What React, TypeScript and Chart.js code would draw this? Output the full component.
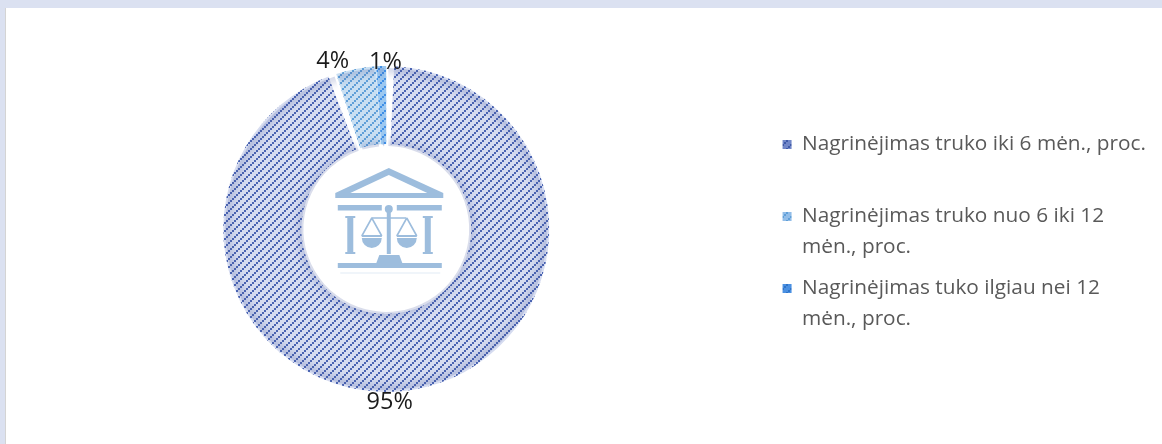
import React, { useEffect, useRef } from "react";
import { Chart, registerables } from "chart.js";

Chart.register(...registerables);

const categories = [
  ["Nagrinėjimas truko iki 6 mėn., proc.", ""],
  ["Nagrinėjimas truko nuo 6 iki 12", "mėn., proc."],
  ["Nagrinėjimas tuko ilgiau nei 12", "mėn., proc."],
];
const shares = [95, 4, 1];
const valueLabels = ["95%", "4%", "1%"];
const stripeColors = ["#4a64b2", "#5f9fd8", "#3f8fe6"];
const groundColors = ["#d6dcf0", "#c9dff2", "#9cc8f0"];
const legendStripes = ["#3f5aa8", "#5f9fd8", "#2f74c8"];
const legendGrounds = ["#7287c8", "#92bde8", "#4a90e2"];
const labelShift = [[-24, 0], [-21.5, 0], [4.5, 0]];
const labelRadius = [14, 10, 6];

function hatch(stripe: string, ground: string) {
  const c = document.createElement("canvas");
  c.width = 8;
  c.height = 8;
  const g = c.getContext("2d")!;
  g.fillStyle = ground;
  g.fillRect(0, 0, 8, 8);
  g.fillStyle = stripe;
  [[6, 0], [4, 2], [2, 4], [0, 6]].forEach(([x, y]) => g.fillRect(x, y, 2, 2));
  return g.createPattern(c, "repeat")!;
}

const softEdges = {
  id: "softEdges",
  afterDatasetsDraw(chart: any) {
    const ctx = chart.ctx;
    chart.getDatasetMeta(0).data.forEach((arc: any) => {
      const { x, y, startAngle, endAngle, innerRadius, outerRadius } = arc.getProps(
        ["x", "y", "startAngle", "endAngle", "innerRadius", "outerRadius"],
        true
      );
      const off = arc.options.spacing / 2 / outerRadius;
      ctx.save();
      ctx.beginPath();
      ctx.arc(x, y, outerRadius, startAngle + off, endAngle - off);
      ctx.arc(x, y, innerRadius, endAngle - off * 2, startAngle + off * 2, true);
      ctx.closePath();
      ctx.clip();
      ctx.filter = "blur(5px)";
      ctx.strokeStyle = "rgba(70,90,160,0.38)";
      ctx.lineWidth = 7;
      ctx.beginPath();
      ctx.arc(x, y, outerRadius, 0, Math.PI * 2);
      ctx.stroke();
      ctx.beginPath();
      ctx.arc(x, y, innerRadius, 0, Math.PI * 2);
      ctx.stroke();
      ctx.restore();
    });
  },
};

const valueText = {
  id: "valueText",
  afterDatasetsDraw(chart: any) {
    const ctx = chart.ctx;
    ctx.save();
    ctx.font = '23.5px "Open Sans"';
    ctx.fillStyle = "#1a1a1a";
    ctx.textAlign = "center";
    ctx.textBaseline = "middle";
    chart.getDatasetMeta(0).data.forEach((arc: any, i: number) => {
      const { x, y, startAngle, endAngle, outerRadius } = arc.getProps(
        ["x", "y", "startAngle", "endAngle", "outerRadius"],
        true
      );
      const mid = (startAngle + endAngle) / 2;
      const r = outerRadius + labelRadius[i];
      ctx.fillText(
        valueLabels[i],
        x + Math.cos(mid) * r + labelShift[i][0],
        y + Math.sin(mid) * r + labelShift[i][1]
      );
    });
    ctx.restore();
  },
};

const courtIcon = {
  id: "courtIcon",
  afterDatasetsDraw(chart: any) {
    const arc = chart.getDatasetMeta(0).data[0];
    const ctx = chart.ctx;
    const poly = (pts: number[][]) => {
      ctx.beginPath();
      pts.forEach(([a, b], i) => (i ? ctx.lineTo(a, b) : ctx.moveTo(a, b)));
      ctx.closePath();
      ctx.fill();
    };
    ctx.save();
    ctx.translate(arc.x, arc.y);
    ctx.filter = "blur(0.6px)";
    ctx.fillStyle = "#9dbddd";
    ctx.strokeStyle = "#9dbddd";
    // roof
    poly([[2.5, -61], [57, -36], [57, -31], [-51, -31], [-51, -36]]);
    ctx.fillStyle = "#fff";
    poly([[2.5, -54], [41, -36], [-36, -36]]);
    ctx.fillStyle = "#9dbddd";
    // entablature
    ctx.fillRect(-48.5, -24, 44, 5.5);
    ctx.fillRect(10.5, -24, 45, 5.5);
    // columns
    ctx.fillRect(-39, -12, 6, 37);
    ctx.fillRect(-41, -13, 10, 2);
    ctx.fillRect(-41, 23, 10, 2);
    ctx.fillRect(38.5, -12, 6, 37);
    ctx.fillRect(36.5, -13, 10, 2);
    ctx.fillRect(36.5, 23, 10, 2);
    // scales
    ctx.beginPath();
    ctx.arc(2.5, -20, 4, 0, Math.PI * 2);
    ctx.fill();
    ctx.fillRect(0.5, -20, 4, 45);
    ctx.lineWidth = 1.6;
    ctx.beginPath();
    ctx.moveTo(-15, -11);
    ctx.lineTo(20, -11);
    ctx.stroke();
    [-14.5, 20.5].forEach((px) => {
      ctx.beginPath();
      ctx.moveTo(px, -11);
      ctx.lineTo(px - 10, 7);
      ctx.moveTo(px, -11);
      ctx.lineTo(px + 10, 7);
      ctx.stroke();
      ctx.fillRect(px - 10, 6, 20, 2);
      ctx.beginPath();
      ctx.arc(px, 9, 10, 0, Math.PI);
      ctx.fill();
    });
    // base
    poly([[-7, 26], [13, 26], [16, 34], [-10, 34]]);
    ctx.fillRect(-48.5, 34, 104, 5);
    ctx.globalAlpha = 0.15;
    ctx.fillRect(-46, 43, 100, 2);
    ctx.restore();
  },
};

export default function App() {
  const ref = useRef<HTMLCanvasElement>(null);
  useEffect(() => {
    document.body.style.margin = "0";
    const fills = stripeColors.map((s, i) => hatch(s, groundColors[i]));
    const legendFills = legendStripes.map((s, i) => hatch(s, legendGrounds[i]));
    const chart = new Chart(ref.current!, {
      type: "doughnut",
      data: {
        labels: categories as any,
        datasets: [
          {
            data: shares,
            backgroundColor: fills as any,
            borderWidth: 0,
            spacing: 4,
          },
        ],
      },
      options: {
        responsive: false,
        animation: false,
        cutout: "51.5%",
        layout: { padding: { top: 66, bottom: 52, left: 0, right: 6 } },
        plugins: {
          tooltip: { enabled: false },
          legend: {
            position: "right",
            title: { display: true, text: " ", padding: 7.5, font: { size: 1 } },
            labels: {
              boxWidth: 9,
              boxHeight: 9,
              padding: 10,
              color: "#595959",
              font: { family: '"Open Sans"', size: 20.8, lineHeight: 31 / 20.8 },
              generateLabels: (c: any) =>
                c.data.labels.map((text: any, index: number) => ({
                  text,
                  index,
                  fillStyle: legendFills[index],
                  strokeStyle: "transparent",
                  lineWidth: 0,
                  fontColor: "#595959",
                  hidden: false,
                })),
            },
          },
        },
      },
      plugins: [softEdges, courtIcon, valueText],
    });
    return () => chart.destroy();
  }, []);
  return (
    <div style={{ position: "fixed", left: 0, top: 0, width: 1162, height: 444, background: "#dbe1f1", overflow: "hidden" }}>
      <div style={{ position: "absolute", left: 5, top: 8, width: 1157, height: 436, background: "#fff", borderLeft: "1px solid #d4d4d4", boxSizing: "border-box" }} />
      <canvas ref={ref} width={1162} height={444} style={{ position: "absolute", left: 0, top: 0 }} />
    </div>
  );
}
